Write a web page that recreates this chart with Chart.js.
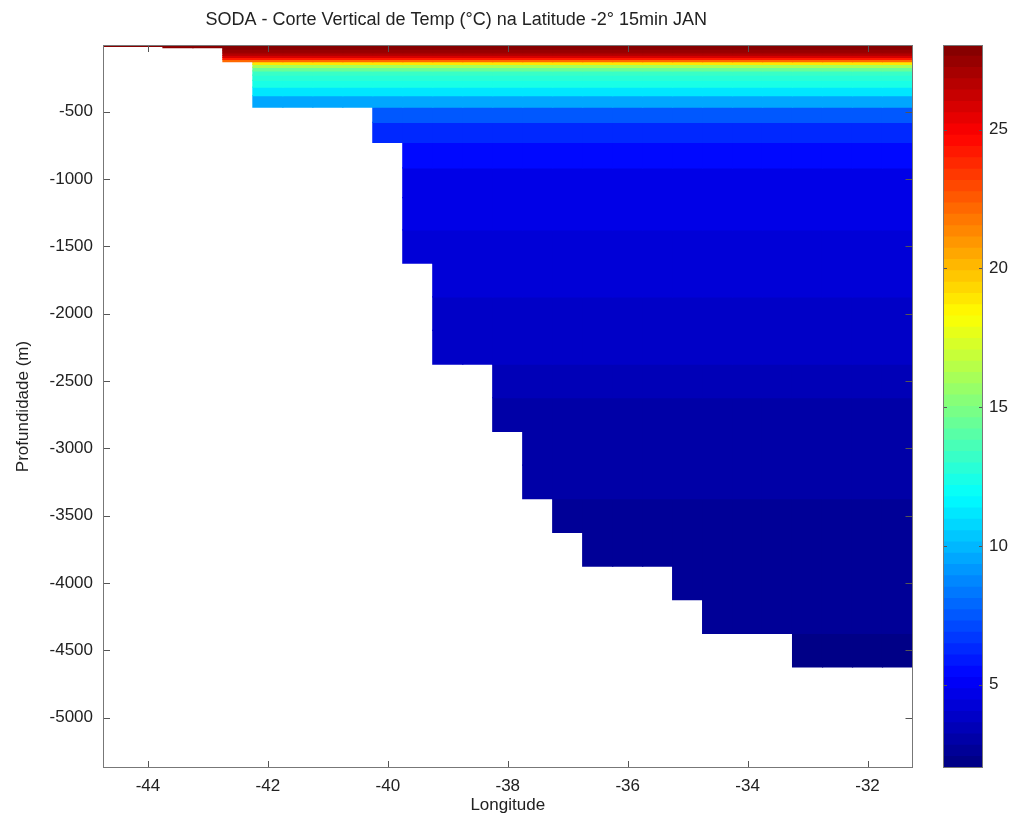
<!DOCTYPE html>
<html>
<head>
<meta charset="utf-8">
<script src="https://cdn.jsdelivr.net/npm/chart.js@4.4.1/dist/chart.umd.min.js"></script>
<style>
  body { margin: 0; background: #fff; }
  #wrap { position: relative; width: 1017px; height: 825px; }
  #cbar { position: absolute; left: 930px; top: 0; }
</style>
</head>
<body>
<div id="wrap">
  <canvas id="secao" width="1017" height="825"></canvas>
  <canvas id="cbar" width="87" height="825"></canvas>
</div>
<script>
// centros das colunas (longitude, passo 0.5 grau)
const longitudes = [-44.5, -44.0, -43.5, -43.0, -42.5, -42.0, -41.5, -41.0, -40.5, -40.0,
                    -39.5, -39.0, -38.5, -38.0, -37.5, -37.0, -36.5, -36.0, -35.5, -35.0,
                    -34.5, -34.0, -33.5, -33.0, -32.5, -32.0, -31.5];
// profundidade do fundo em cada coluna (m)
const fundo = [15.07, 15.07, 25.28, 25.28, 129.49, 465.91, 465.91, 465.91, 465.91, 729.35,
               1625.7, 2375, 2375, 2875, 3375, 3625, 3875, 3875, 3875, 4125,
               4375, 4375, 4375, 4625, 4625, 4625, 4625];
// niveis verticais do SODA (m)
const niveis = [5.01, 15.07, 25.28, 35.76, 46.61, 57.98, 70.02, 82.92, 96.92, 112.32,
                129.49, 148.96, 171.4, 197.79, 229.48, 268.46, 317.65, 381.39, 465.91, 579.31,
                729.35, 918.37, 1139.15, 1378.57, 1625.7, 1875.11, 2125.01, 2375, 2625, 2875,
                3125, 3375, 3625, 3875, 4125, 4375, 4625];
// temperatura de cada camada entre dois niveis (graus C)
const temperatura = [28.0, 27.9, 27.8, 27.6, 27.4, 27.1, 26.8, 25.8, 24.2, 22.0,
                     19.0, 16.0, 14.3, 13.3, 12.7, 12.2, 11.2, 9.5, 7.5, 6.3,
                     5.3, 4.8, 4.5, 4.3, 4.1, 3.9, 3.7, 3.4, 3.2, 3.0,
                     2.85, 2.7, 2.6, 2.5, 2.45, 2.4];

const lonTicks = [-44, -42, -40, -38, -36, -34, -32];
const profTicks = [-5000, -4500, -4000, -3500, -3000, -2500, -2000, -1500, -1000, -500];
const cbarTicks = [5, 10, 15, 20, 25];
const cLim = [2.0, 28.05];

const fonte = { family: "'Liberation Sans', Arial, sans-serif", size: 17 };
const corTexto = '#222';

// colormap jet com 64 cores, como no matlab
function jet(t) {
  t = (Math.min(Math.floor(t * 64), 63) + 0.5) / 64;
  const c = v => Math.round(Math.min(Math.max(v, 0), 1) * 255);
  const r = Math.min(4 * t - 1.5, -4 * t + 4.5);
  const g = Math.min(4 * t - 0.5, -4 * t + 3.5);
  const b = Math.min(4 * t + 0.5, -4 * t + 2.5);
  return 'rgb(' + c(r) + ',' + c(g) + ',' + c(b) + ')';
}
function corTemp(v) {
  return jet(Math.min(Math.max((v - cLim[0]) / (cLim[1] - cLim[0]), 0), 0.9999));
}

// moldura com ticks para dentro nos quatro lados
const moldura = {
  id: 'moldura',
  afterDatasetsDraw(chart, args, opts) {
    const { ctx, chartArea: a, scales } = chart;
    const len = opts.len || 7;
    ctx.save();
    ctx.strokeStyle = '#555';
    ctx.lineWidth = 1;
    ctx.beginPath();
    if (scales.x && scales.x.options.display !== false) {
      scales.x.ticks.forEach(t => {
        const px = Math.round(scales.x.getPixelForValue(t.value)) + 0.5;
        ctx.moveTo(px, a.bottom); ctx.lineTo(px, a.bottom - len);
        ctx.moveTo(px, a.top); ctx.lineTo(px, a.top + len);
      });
    }
    scales.y.ticks.forEach(t => {
      const py = Math.round(scales.y.getPixelForValue(t.value)) + 0.5;
      ctx.moveTo(a.left, py); ctx.lineTo(a.left + len, py);
      ctx.moveTo(a.right, py); ctx.lineTo(a.right - len, py);
    });
    ctx.stroke();
    ctx.strokeStyle = '#777';
    ctx.strokeRect(Math.round(a.left) + 0.5, Math.round(a.top) + 0.5,
                   Math.round(a.width) - 1, Math.round(a.height) - 1);
    ctx.restore();
  }
};

// uma serie por camada; cada barra flutuante vai do topo ao fundo da camada
const camadas = temperatura.map((temp, i) => {
  const topo = niveis[i], base = niveis[i + 1];
  const pontos = [];
  longitudes.forEach((lon, j) => {
    if (fundo[j] >= base - 0.01) pontos.push({ x: lon, y: [-base, -topo] });
  });
  return {
    data: pontos,
    backgroundColor: corTemp(temp),
    borderWidth: 0,
    inflateAmount: 0.6,
    grouped: false,
    barPercentage: 1,
    categoryPercentage: 1
  };
});

new Chart(document.getElementById('secao'), {
  type: 'bar',
  data: { datasets: camadas },
  options: {
    responsive: false,
    animation: false,
    events: [],
    layout: { padding: { left: 0, right: 104.5, top: 0, bottom: 0 } },
    plugins: {
      legend: { display: false },
      tooltip: { enabled: false },
      title: {
        display: true,
        text: 'SODA - Corte Vertical de Temp (°C) na Latitude -2° 15min JAN',
        color: corTexto,
        font: { family: fonte.family, size: 18, weight: 'normal' },
        padding: { top: 9, bottom: 14.4 }
      },
      moldura: { len: 7 }
    },
    scales: {
      x: {
        type: 'linear',
        min: -44.75,
        max: -31.25,
        offset: false,
        afterBuildTicks: s => { s.ticks = lonTicks.map(v => ({ value: v })); },
        afterFit: s => { s.height = 57; },
        grid: { display: false, drawTicks: false },
        border: { display: false },
        ticks: { padding: 8, color: corTexto, font: fonte, callback: v => String(v), maxRotation: 0 },
        title: { display: true, text: 'Longitude', color: corTexto, font: fonte, padding: { top: 0, bottom: 9 } }
      },
      y: {
        type: 'linear',
        min: -5375,
        max: -5.01,
        afterBuildTicks: s => { s.ticks = profTicks.map(v => ({ value: v })); },
        afterFit: s => { s.width = 103; },
        grid: { display: false, drawTicks: false },
        border: { display: false },
        ticks: { padding: 10, color: corTexto, font: fonte, callback: v => String(v) },
        title: { display: true, text: 'Profundidade (m)', color: corTexto, font: fonte, padding: { top: 13, bottom: 0 } }
      }
    }
  },
  plugins: [moldura]
});

// barra de cores: 64 degraus do jet entre os limites
const degraus = [];
for (let k = 0; k < 64; k++) {
  const lo = cLim[0] + (cLim[1] - cLim[0]) * k / 64;
  const hi = cLim[0] + (cLim[1] - cLim[0]) * (k + 1) / 64;
  degraus.push({
    data: [[lo, hi]],
    backgroundColor: jet((k + 0.5) / 64),
    borderWidth: 0,
    inflateAmount: 0.6,
    grouped: false,
    barPercentage: 1,
    categoryPercentage: 1
  });
}

new Chart(document.getElementById('cbar'), {
  type: 'bar',
  data: { labels: [''], datasets: degraus },
  options: {
    responsive: false,
    animation: false,
    events: [],
    layout: { padding: { left: 13, right: 0, top: 45, bottom: 57 } },
    plugins: { legend: { display: false }, tooltip: { enabled: false }, moldura: { len: 4 } },
    scales: {
      x: { display: false },
      y: {
        position: 'right',
        min: cLim[0],
        max: cLim[1],
        afterBuildTicks: s => { s.ticks = cbarTicks.map(v => ({ value: v })); },
        afterFit: s => { s.width = 34; },
        grid: { display: false, drawTicks: false },
        border: { display: false },
        ticks: { padding: 6, color: corTexto, font: fonte }
      }
    }
  },
  plugins: [moldura]
});
</script>
</body>
</html>
